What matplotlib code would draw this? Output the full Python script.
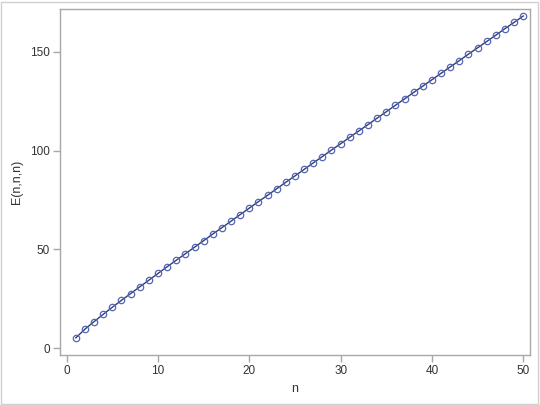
import matplotlib.pyplot as plt
import numpy as np

# values
n = np.arange(1, 51)
e_nnn = [5.2, 9.6, 13.4, 17.1, 20.7, 24.2, 27.6, 31.0, 34.4, 37.8,
         41.2, 44.5, 47.8, 51.1, 54.4, 57.8, 61.0, 64.3, 67.6, 70.9,
         74.2, 77.4, 80.7, 84.0, 87.2, 90.5, 93.8, 97.0, 100.3, 103.5,
         106.8, 110.0, 113.2, 116.5, 119.7, 123.0, 126.2, 129.5, 132.7, 135.9,
         139.2, 142.4, 145.6, 148.9, 152.1, 155.3, 158.5, 161.8, 165.0, 168.2]

plt.rcParams['font.family'] = ['Liberation Sans', 'DejaVu Sans']

fig = plt.figure(figsize=(5.4, 4.05), dpi=100)
ax = fig.add_axes([60.3 / 540, 50 / 405, (530 - 60.3) / 540, (355 - 9.3) / 405])

line_col = '#445694'
ax.plot(n, e_nnn, '-', color='#2e3d7a', lw=1.0, marker='o', ms=4.6,
        mfc='none', mec='#5565b0', mew=0.9)

ax.set_xlim(-0.7, 50.74)
ax.set_ylim(-3.5, 171.6)
ax.set_xticks([0, 10, 20, 30, 40, 50])
ax.set_yticks([0, 50, 100, 150])

for s in ax.spines.values():
    s.set_color('#a8a8a8')
    s.set_linewidth(1.0)
ax.tick_params(colors='#a8a8a8', labelcolor='#333333', labelsize=8.5,
               length=5, width=1, pad=2.5)

ax.set_xlabel('n', fontsize=9, color='#333333', labelpad=4)
ax.set_ylabel('E(n,n,n)', fontsize=9, color='#333333', labelpad=5)

# outer border around the whole graph
fig.patches.append(plt.Rectangle((1 / 540, 1 / 405), 537 / 540, 402 / 405,
                                 transform=fig.transFigure, fill=False,
                                 ec='#d0d0d0', lw=1.0))

fig.savefig('out.png', dpi=100)
